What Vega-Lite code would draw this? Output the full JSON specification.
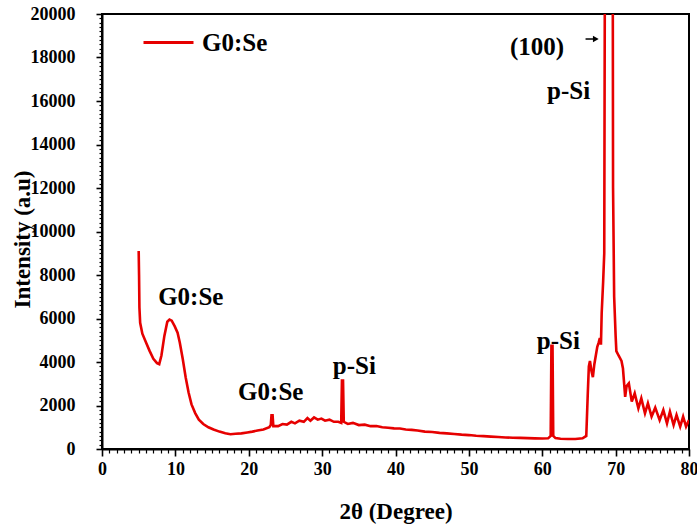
{
  "$schema": "https://vega.github.io/schema/vega-lite/v6.json",
  "autosize": "none",
  "width": 587,
  "height": 435,
  "padding": {"left": 102, "top": 14, "right": 8, "bottom": 82},
  "background": "white",
  "config": {
    "view": {"stroke": "black", "strokeWidth": 2},
    "font": "Liberation Serif"
  },
  "datasets": {
    "xrd": [
      {"x": 5.0, "y": 9100}, {"x": 5.05, "y": 8000}, {"x": 5.1, "y": 6500}, {"x": 5.2, "y": 5800},
      {"x": 5.5, "y": 5300}, {"x": 6.0, "y": 4900}, {"x": 6.5, "y": 4500}, {"x": 7.0, "y": 4150},
      {"x": 7.5, "y": 3950}, {"x": 7.8, "y": 3900}, {"x": 8.1, "y": 4300}, {"x": 8.5, "y": 5200},
      {"x": 8.9, "y": 5850}, {"x": 9.2, "y": 5950}, {"x": 9.5, "y": 5900}, {"x": 9.9, "y": 5650},
      {"x": 10.3, "y": 5350}, {"x": 10.6, "y": 4900}, {"x": 11.0, "y": 4150}, {"x": 11.4, "y": 3300},
      {"x": 11.8, "y": 2600}, {"x": 12.2, "y": 2050}, {"x": 12.7, "y": 1650}, {"x": 13.2, "y": 1350},
      {"x": 13.8, "y": 1150}, {"x": 14.5, "y": 1000}, {"x": 15.2, "y": 900}, {"x": 16.0, "y": 800},
      {"x": 16.8, "y": 720}, {"x": 17.5, "y": 680}, {"x": 18.2, "y": 700}, {"x": 19.0, "y": 720},
      {"x": 19.8, "y": 760}, {"x": 20.5, "y": 800}, {"x": 21.2, "y": 850}, {"x": 22.0, "y": 900},
      {"x": 22.8, "y": 1000}, {"x": 23.0, "y": 1100}, {"x": 23.1, "y": 1550}, {"x": 23.25, "y": 1550},
      {"x": 23.35, "y": 1050}, {"x": 24.0, "y": 1050}, {"x": 24.6, "y": 1150}, {"x": 25.2, "y": 1120},
      {"x": 25.8, "y": 1250}, {"x": 26.3, "y": 1180}, {"x": 26.9, "y": 1300}, {"x": 27.5, "y": 1250},
      {"x": 28.0, "y": 1420}, {"x": 28.4, "y": 1300}, {"x": 28.9, "y": 1450}, {"x": 29.4, "y": 1350},
      {"x": 29.9, "y": 1400}, {"x": 30.4, "y": 1300}, {"x": 31.0, "y": 1350}, {"x": 31.6, "y": 1250},
      {"x": 32.2, "y": 1250}, {"x": 32.6, "y": 1200}, {"x": 32.7, "y": 3150}, {"x": 32.85, "y": 3150},
      {"x": 32.95, "y": 1250}, {"x": 33.5, "y": 1150}, {"x": 34.2, "y": 1200}, {"x": 35.0, "y": 1100},
      {"x": 35.8, "y": 1120}, {"x": 36.6, "y": 1050}, {"x": 37.4, "y": 1060}, {"x": 38.2, "y": 1000},
      {"x": 39.0, "y": 980}, {"x": 39.8, "y": 950}, {"x": 40.6, "y": 940}, {"x": 41.4, "y": 900},
      {"x": 42.2, "y": 880}, {"x": 43.0, "y": 850}, {"x": 44.0, "y": 800}, {"x": 45.0, "y": 780},
      {"x": 46.0, "y": 740}, {"x": 47.0, "y": 720}, {"x": 48.0, "y": 690}, {"x": 49.0, "y": 660},
      {"x": 50.0, "y": 640}, {"x": 51.0, "y": 610}, {"x": 52.0, "y": 590}, {"x": 53.0, "y": 570},
      {"x": 54.0, "y": 550}, {"x": 55.0, "y": 530}, {"x": 56.0, "y": 520}, {"x": 57.0, "y": 510},
      {"x": 58.0, "y": 500}, {"x": 59.0, "y": 490}, {"x": 60.0, "y": 480}, {"x": 60.8, "y": 490},
      {"x": 61.15, "y": 600}, {"x": 61.25, "y": 4750}, {"x": 61.4, "y": 4750}, {"x": 61.5, "y": 600},
      {"x": 61.8, "y": 500}, {"x": 62.5, "y": 470}, {"x": 63.5, "y": 460}, {"x": 64.5, "y": 460},
      {"x": 65.5, "y": 490}, {"x": 66.0, "y": 600}, {"x": 66.2, "y": 2500}, {"x": 66.35, "y": 3800},
      {"x": 66.5, "y": 4050}, {"x": 66.7, "y": 3600}, {"x": 66.9, "y": 3300}, {"x": 67.1, "y": 3900},
      {"x": 67.3, "y": 4300}, {"x": 67.5, "y": 4700}, {"x": 67.7, "y": 4900}, {"x": 67.85, "y": 5100},
      {"x": 68.0, "y": 4800}, {"x": 68.1, "y": 6250}, {"x": 68.3, "y": 7700}, {"x": 68.45, "y": 9000},
      {"x": 68.5, "y": 17000}, {"x": 68.55, "y": 24000}, {"x": 69.6, "y": 24000}, {"x": 69.65, "y": 12000},
      {"x": 69.8, "y": 7000}, {"x": 70.0, "y": 5200}, {"x": 70.1, "y": 4500}, {"x": 70.4, "y": 4300},
      {"x": 70.8, "y": 4050}, {"x": 71.0, "y": 3700}, {"x": 71.3, "y": 2400}, {"x": 71.5, "y": 2900},
      {"x": 71.8, "y": 3020}, {"x": 72.2, "y": 2180}, {"x": 72.6, "y": 2560}, {"x": 73.1, "y": 1870},
      {"x": 73.5, "y": 2330}, {"x": 74.0, "y": 1640}, {"x": 74.4, "y": 2100}, {"x": 74.9, "y": 1490},
      {"x": 75.4, "y": 1900}, {"x": 76.0, "y": 1330}, {"x": 76.5, "y": 1790}, {"x": 77.0, "y": 1180},
      {"x": 77.4, "y": 1720}, {"x": 77.9, "y": 1100}, {"x": 78.3, "y": 1560}, {"x": 78.8, "y": 1030},
      {"x": 79.2, "y": 1490}, {"x": 79.6, "y": 1030}, {"x": 80.0, "y": 1330}
    ],
    "labels": [
      {"x": 12.1, "y": 7000, "label": "G0:Se"},
      {"x": 23.0, "y": 2600, "label": "G0:Se"},
      {"x": 34.4, "y": 3800, "label": "p-Si"},
      {"x": 62.2, "y": 4950, "label": "p-Si"},
      {"x": 59.3, "y": 18500, "label": "(100)"},
      {"x": 63.6, "y": 16450, "label": "p-Si"}
    ],
    "arrow": [
      {"x": 65.9, "x2": 67.2, "y": 18850}
    ],
    "arrowhead": [
      {"x": 67.3, "y": 18850}
    ]
  },
  "encoding": {
    "x": {"type": "quantitative", "scale": {"domain": [0, 80], "nice": false, "zero": false}, "axis": {
      "orient": "bottom", "grid": false,
      "values": [0,1,2,3,4,5,6,7,8,9,10,11,12,13,14,15,16,17,18,19,20,21,22,23,24,25,26,27,28,29,30,31,32,33,34,35,36,37,38,39,40,41,42,43,44,45,46,47,48,49,50,51,52,53,54,55,56,57,58,59,60,61,62,63,64,65,66,67,68,69,70,71,72,73,74,75,76,77,78,79,80],
      "labelExpr": "datum.value % 10 === 0 ? format(datum.value, 'd') : ''",
      "tickSize": {"condition": {"test": "datum.value % 10 === 0", "value": 7}, "value": 4},
      "tickWidth": {"condition": {"test": "datum.value % 10 === 0", "value": 1.6}, "value": 1.2},
      "domainColor": "black", "domainWidth": 2, "tickColor": "black",
      "labelFont": "Liberation Serif", "labelFontWeight": "bold", "labelFontSize": 18, "labelColor": "black", "labelPadding": 4,
      "labelOverlap": false, "labelFlush": false,
      "title": "2θ (Degree)", "titleFont": "Liberation Serif", "titleFontWeight": "bold", "titleFontSize": 23, "titleColor": "black", "titlePadding": 22}},
    "y": {"type": "quantitative", "scale": {"domain": [0, 20000], "nice": false}, "axis": {
      "orient": "left", "grid": false,
      "values": [0,200,400,600,800,1000,1200,1400,1600,1800,2000,2200,2400,2600,2800,3000,3200,3400,3600,3800,4000,4200,4400,4600,4800,5000,5200,5400,5600,5800,6000,6200,6400,6600,6800,7000,7200,7400,7600,7800,8000,8200,8400,8600,8800,9000,9200,9400,9600,9800,10000,10200,10400,10600,10800,11000,11200,11400,11600,11800,12000,12200,12400,12600,12800,13000,13200,13400,13600,13800,14000,14200,14400,14600,14800,15000,15200,15400,15600,15800,16000,16200,16400,16600,16800,17000,17200,17400,17600,17800,18000,18200,18400,18600,18800,19000,19200,19400,19600,19800,20000],
      "labelExpr": "datum.value % 2000 === 0 ? format(datum.value, 'd') : ''",
      "tickSize": {"condition": {"test": "datum.value % 2000 === 0", "value": 6}, "value": 3},
      "tickWidth": {"condition": {"test": "datum.value % 2000 === 0", "value": 1.6}, "value": 1.2},
      "domainColor": "black", "domainWidth": 2, "tickColor": "black",
      "labelFont": "Liberation Serif", "labelFontWeight": "bold", "labelFontSize": 18, "labelColor": "black", "labelPadding": 21,
      "labelOverlap": false, "labelFlush": false,
      "title": "Intensity (a.u)", "titleFont": "Liberation Serif", "titleFontWeight": "bold", "titleFontSize": 23, "titleColor": "black",
      "titleAngle": -90, "titleX": -80, "titleY": 225, "titleAlign": "center", "titleBaseline": "middle"}}
  },
  "layer": [
    {
      "data": {"name": "xrd"},
      "transform": [{"calculate": "'G0:Se'", "as": "series"}],
      "mark": {"type": "line", "clip": true, "strokeWidth": 2.6, "interpolate": "linear"},
      "encoding": {
        "x": {"field": "x", "type": "quantitative"},
        "y": {"field": "y", "type": "quantitative"},
        "color": {"field": "series", "type": "nominal", "scale": {"range": ["#e60000"]}, "legend": {
          "orient": "none", "legendX": 40, "legendY": 2, "title": null, "padding": 0,
          "symbolType": "stroke", "symbolSize": 2500, "symbolStrokeWidth": 3, "symbolStrokeColor": "#e60000",
          "labelFont": "Liberation Serif", "labelFontWeight": "bold", "labelFontSize": 25, "labelColor": "black", "labelOffset": 7}}
      }
    },
    {
      "data": {"name": "labels"},
      "mark": {"type": "text", "font": "Liberation Serif", "fontWeight": "bold", "fontSize": 25, "color": "black", "align": "center", "baseline": "middle"},
      "encoding": {
        "x": {"field": "x", "type": "quantitative"},
        "y": {"field": "y", "type": "quantitative"},
        "text": {"field": "label", "type": "nominal"}
      }
    },
    {
      "data": {"name": "arrow"},
      "mark": {"type": "rule", "color": "black", "strokeWidth": 1.5},
      "encoding": {
        "x": {"field": "x", "type": "quantitative"},
        "x2": {"field": "x2"},
        "y": {"field": "y", "type": "quantitative"}
      }
    },
    {
      "data": {"name": "arrowhead"},
      "mark": {"type": "point", "shape": "triangle-right", "filled": true, "color": "black", "size": 45, "opacity": 1},
      "encoding": {
        "x": {"field": "x", "type": "quantitative"},
        "y": {"field": "y", "type": "quantitative"}
      }
    }
  ]
}
